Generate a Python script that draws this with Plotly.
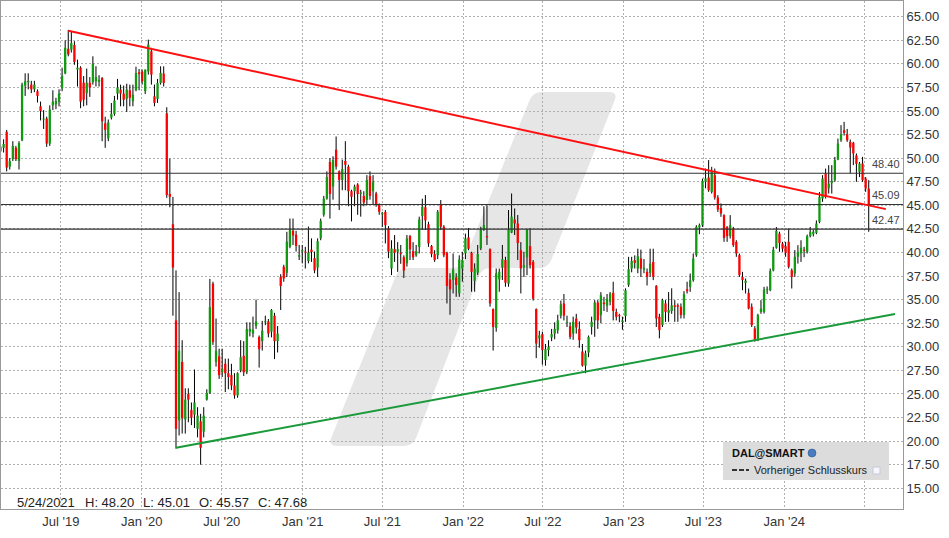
import plotly.graph_objects as go
import pandas as pd

# ---------------- data (weekly OHLC) ----------------
first_week = "2019-02-11"

open_ = [50.7, 51.1, 52.8, 49.1, 49.9, 51.1, 49.7, 51.9, 57.7, 58.05,
         57.8, 57.3, 57.1, 55.5, 54.1, 54.2, 51.55, 55.6, 55.7, 56.0,
         57.4, 59.0, 61.6, 61.5, 62.0, 59.4, 59.6, 58.0, 56.9, 58.0,
         58.05, 58.15, 58.1, 58.5, 53.7, 52.1, 54.3, 54.7, 56.85, 57.27,
         56.85, 56.3, 57.2, 56.03, 57.2, 59.1, 59.2, 57.1, 59.2, 61.33,
         56.56, 56.28, 57.98, 58.97, 54.75, 46.2, 43.0, 32.8, 22.2, 28.4,
         22.3, 25.0, 23.3, 22.8, 21.3, 22.1, 21.0, 24.4, 25.1, 36.7,
         28.4, 29.0, 27.3, 28.2, 27.2, 27.0, 25.9, 24.85, 27.5, 29.05,
         27.3, 31.6, 31.4, 32.2, 31.05, 30.6, 32.6, 32.7, 31.6, 33.3,
         30.6, 37.4, 38.5, 37.85, 40.6, 42.3, 41.9, 39.55, 40.1, 40.1,
         39.1, 40.3, 39.4, 38.4, 41.5, 44.0, 45.7, 49.6, 47.0, 50.9,
         48.6, 47.7, 49.7, 49.1, 46.5, 46.5, 47.2, 46.2, 46.0, 45.57,
         48.1, 46.5, 46.26, 45.03, 44.04, 44.3, 42.55, 38.3, 40.36, 40.08,
         39.97, 39.5, 38.85, 41.74, 40.15, 39.7, 40.6, 43.86, 44.8, 43.0,
         40.68, 39.83, 39.7, 45.03, 42.73, 39.97, 37.15, 37.08, 37.36, 35.66,
         38.3, 39.9, 41.6, 39.97, 37.0, 37.85, 40.43, 42.4, 41.74, 40.36,
         34.0, 32.0, 37.15, 38.4, 39.2, 36.7, 42.1, 43.5, 43.08, 40.25,
         38.4, 39.5, 40.68, 39.0, 34.0, 30.9, 31.35, 28.6, 29.65, 31.0,
         31.4, 31.75, 33.3, 34.6, 32.55, 32.2, 31.4, 33.0, 31.9, 29.5,
         28.0, 29.4, 32.1, 32.8, 34.7, 33.36, 34.7, 34.35, 34.77, 35.72,
         33.7, 33.36, 32.65, 33.25, 36.54, 38.3, 39.19, 38.3, 39.36, 38.2,
         37.95, 37.84, 39.0, 36.47, 33.18, 32.3, 34.6, 33.6, 33.8, 34.4,
         34.4, 34.24, 33.36, 36.1, 36.36, 37.07, 39.72, 42.65, 42.9, 47.49,
         47.95, 46.43, 48.2, 45.83, 44.73, 43.96, 42.72, 41.73, 42.54, 41.13,
         39.72, 37.42, 36.78, 35.72, 34.24, 31.95, 30.7, 33.7, 33.7, 36.0,
         36.0, 38.1, 40.5, 42.0, 40.95, 40.67, 41.13, 38.13, 37.77, 39.54,
         39.9, 40.3, 40.07, 41.73, 41.94, 42.08, 43.25, 45.72, 48.37, 46.8,
         47.38, 47.67, 49.86, 51.9, 52.97, 52.54, 51.73, 51.63, 50.3, 48.55,
         49.43, 47.84, 46.78]

high = [51.6, 52.0, 53.0, 50.0, 51.8, 51.3, 51.8, 58.0, 59.0, 59.0,
        58.2, 58.2, 57.3, 56.0, 55.1, 54.4, 55.6, 57.2, 56.4, 57.3,
        59.6, 62.5, 63.6, 63.4, 62.4, 60.45, 59.75, 58.7, 59.5, 58.6,
        60.8, 59.75, 58.8, 58.6, 54.4, 54.1, 55.85, 56.6, 58.4, 57.8,
        57.7, 57.9, 57.8, 57.8, 59.7, 59.45, 59.4, 59.4, 62.57, 61.7,
        57.8, 58.4, 59.74, 59.74, 55.4, 49.95, 45.9, 38.1, 35.8, 30.7,
        25.6, 25.6, 24.1, 27.6, 23.6, 22.9, 23.6, 25.5, 37.2, 36.9,
        33.0, 29.8, 29.8, 28.75, 28.75, 28.2, 27.2, 27.3, 30.7, 30.6,
        32.6, 32.6, 33.2, 35.0, 31.2, 32.75, 33.3, 32.95, 34.0, 33.6,
        32.2, 37.7, 38.7, 42.2, 43.6, 43.6, 42.3, 40.8, 40.8, 40.6,
        42.75, 41.5, 40.1, 41.5, 43.6, 46.0, 48.6, 50.0, 50.2, 52.3,
        48.7, 49.85, 51.8, 49.3, 46.65, 47.2, 47.35, 46.65, 46.5, 48.20,
        48.6, 48.2, 46.44, 45.2, 44.3, 44.5, 42.8, 41.3, 41.85, 41.1,
        40.8, 39.7, 41.85, 41.85, 41.1, 40.8, 43.8, 45.7, 46.1, 43.26,
        40.8, 40.25, 44.5, 45.56, 42.9, 40.08, 37.8, 39.9, 37.8, 39.7,
        40.08, 42.0, 42.6, 40.08, 38.85, 40.8, 42.73, 44.9, 45.0, 40.43,
        34.07, 38.3, 38.3, 40.8, 39.55, 44.5, 46.26, 44.67, 43.97, 41.1,
        40.08, 42.5, 42.56, 39.2, 34.07, 31.7, 31.6, 30.3, 30.7, 31.9,
        32.6, 33.4, 34.9, 35.6, 33.3, 32.6, 33.2, 33.5, 32.7, 30.3,
        29.6, 31.2, 33.2, 34.95, 34.95, 35.8, 35.3, 35.6, 35.8, 36.9,
        34.05, 33.5, 33.2, 36.2, 39.54, 39.54, 39.7, 40.4, 40.3, 39.3,
        38.3, 40.4, 40.4, 36.54, 33.5, 35.1, 34.95, 35.8, 36.2, 34.95,
        34.6, 34.6, 35.9, 36.9, 37.77, 39.9, 42.9, 43.07, 47.84, 48.9,
        49.8, 49.08, 48.9, 46.08, 45.2, 44.06, 42.79, 43.96, 42.72, 41.3,
        39.89, 37.95, 37.24, 36.18, 34.6, 32.2, 33.5, 34.95, 36.36, 36.4,
        38.3, 40.6, 42.7, 42.2, 41.13, 41.13, 42.54, 38.3, 40.25, 40.78,
        41.3, 40.6, 41.9, 42.7, 42.4, 43.4, 46.4, 48.2, 48.9, 49.26,
        49.26, 50.14, 52.08, 53.5, 53.85, 53.1, 51.98, 51.73, 50.5, 49.6,
        50.14, 48.0, 47.67]

low = [49.9, 50.6, 48.6, 48.8, 49.7, 49.7, 48.8, 51.8, 56.6, 57.3,
       56.9, 57.0, 55.9, 54.0, 53.1, 51.2, 51.3, 55.1, 55.2, 55.5,
       57.1, 58.9, 60.8, 61.2, 59.9, 57.6, 55.3, 55.5, 55.6, 56.5,
       57.8, 57.6, 57.6, 51.8, 51.1, 51.8, 54.1, 54.5, 56.2, 55.5,
       55.5, 54.9, 55.5, 55.5, 57.1, 57.2, 57.8, 56.8, 58.86, 57.8,
       55.5, 55.86, 57.8, 57.6, 45.8, 44.8, 33.3, 19.2, 20.6, 20.8,
       20.8, 22.0, 21.7, 21.4, 20.4, 17.5, 20.4, 24.3, 25.0, 30.2,
       27.9, 26.6, 26.8, 25.2, 25.5, 25.4, 24.5, 24.6, 27.3, 26.9,
       27.1, 31.1, 31.0, 31.9, 27.8, 29.6, 32.3, 31.0, 31.0, 28.7,
       29.4, 33.9, 36.9, 37.4, 40.45, 40.8, 40.1, 39.2, 38.85, 38.3,
       38.85, 39.0, 37.8, 37.4, 41.3, 43.8, 45.6, 43.6, 45.6, 48.8,
       44.5, 46.6, 46.6, 44.9, 43.3, 44.9, 44.0, 43.8, 44.9, 45.01,
       45.6, 45.05, 44.85, 44.0, 42.7, 40.96, 39.4, 37.6, 39.0, 37.95,
       38.8, 37.3, 38.5, 39.2, 39.2, 39.55, 39.9, 42.4, 42.4, 40.6,
       39.5, 39.0, 39.3, 42.38, 39.5, 34.6, 33.4, 35.66, 35.3, 35.3,
       36.9, 39.3, 40.25, 35.84, 35.84, 37.6, 40.25, 42.3, 40.8, 34.25,
       29.6, 31.6, 35.84, 37.08, 36.37, 36.37, 42.05, 41.85, 39.2, 35.66,
       37.4, 37.6, 38.3, 34.9, 28.8, 29.9, 28.1, 28.0, 29.0, 30.6,
       30.8, 31.4, 33.0, 32.8, 32.1, 30.8, 30.75, 31.4, 29.9, 27.9,
       27.2, 28.9, 31.3, 31.06, 31.9, 32.5, 33.8, 33.7, 34.4, 32.8,
       32.8, 32.6, 31.8, 32.65, 36.36, 37.9, 38.3, 37.8, 37.4, 37.8,
       36.5, 37.42, 37.07, 32.1, 30.9, 32.1, 32.65, 32.65, 33.5, 32.65,
       32.65, 33.0, 33.0, 35.65, 35.83, 36.9, 39.54, 41.94, 42.72, 46.8,
       46.43, 46.25, 45.6, 44.3, 43.78, 41.13, 41.13, 41.48, 40.6, 39.54,
       37.42, 36.0, 35.65, 33.96, 32.1, 30.55, 30.6, 33.5, 33.53, 35.6,
       35.9, 38.0, 40.4, 40.07, 40.07, 39.54, 38.3, 36.18, 37.42, 38.83,
       39.0, 39.5, 39.9, 41.6, 41.7, 41.94, 43.1, 45.37, 45.72, 46.25,
       46.25, 47.49, 49.79, 51.73, 52.4, 51.73, 48.4, 49.26, 47.5, 48.0,
       47.49, 46.43, 42.2]

close = [51.2, 51.5, 49.0, 49.7, 51.3, 49.9, 51.6, 57.8, 58.15, 58.2,
         57.3, 57.8, 56.6, 55.0, 54.2, 51.55, 55.15, 56.0, 56.05, 56.85,
         58.75, 61.7, 61.0, 62.2, 60.2, 59.6, 56.0, 56.2, 58.0, 57.5,
         60.0, 58.6, 58.3, 53.9, 53.0, 53.8, 54.7, 56.1, 57.5, 56.85,
         56.2, 57.27, 56.4, 56.74, 59.04, 58.93, 58.15, 59.39, 62.04, 58.86,
         55.86, 57.98, 59.04, 57.98, 46.1, 45.9, 38.4, 21.3, 29.6, 22.4,
         24.4, 24.4, 22.5, 24.1, 22.7, 19.3, 22.7, 25.1, 34.2, 30.5,
         29.6, 27.0, 27.7, 27.2, 26.8, 25.9, 24.85, 27.2, 28.9, 27.3,
         31.9, 31.9, 31.8, 32.7, 29.75, 31.7, 32.7, 31.4, 33.9, 30.6,
         31.4, 36.45, 37.25, 41.15, 42.4, 41.8, 40.7, 39.7, 40.25, 40.0,
         40.0, 40.05, 38.1, 41.2, 43.35, 45.7, 48.0, 46.2, 49.8, 49.1,
         47.7, 48.85, 49.3, 46.5, 45.9, 47.0, 46.2, 46.35, 45.3, 47.68,
         46.0, 47.5, 45.03, 44.32, 44.2, 42.9, 40.1, 40.43, 39.97, 40.36,
         39.83, 38.1, 41.5, 40.33, 39.5, 40.15, 43.5, 44.85, 43.4, 40.96,
         39.83, 39.2, 44.32, 42.73, 39.7, 36.44, 36.09, 38.2, 36.55, 39.27,
         39.2, 41.5, 40.4, 37.95, 38.3, 39.83, 42.4, 42.9, 41.6, 34.6,
         32.1, 37.8, 37.96, 39.3, 36.8, 42.4, 43.8, 43.08, 41.0, 38.3,
         38.66, 42.4, 38.66, 35.1, 30.35, 31.2, 29.65, 29.75, 30.0, 31.35,
         31.9, 32.8, 34.5, 33.3, 32.65, 31.05, 32.65, 32.05, 30.7, 28.0,
         29.3, 31.05, 32.65, 34.7, 32.8, 35.48, 34.52, 35.1, 35.65, 33.8,
         33.18, 33.25, 32.8, 36.0, 38.23, 39.1, 38.9, 39.6, 38.3, 38.37,
         37.42, 38.83, 37.42, 33.0, 31.77, 34.95, 33.7, 33.9, 34.4, 34.24,
         34.24, 33.36, 35.58, 35.9, 37.07, 39.36, 42.72, 42.9, 47.6, 47.84,
         46.6, 48.55, 45.83, 44.56, 44.13, 41.55, 41.73, 42.9, 40.78, 39.89,
         37.6, 37.07, 37.0, 34.06, 32.3, 30.7, 33.36, 34.06, 36.08, 36.1,
         38.05, 40.3, 42.3, 41.0, 40.4, 39.96, 38.48, 37.42, 39.54, 40.07,
         40.53, 40.18, 41.73, 42.2, 42.2, 43.07, 45.9, 47.84, 45.9, 47.3,
         47.6, 49.8, 51.55, 52.54, 52.69, 51.9, 51.13, 50.5, 49.4, 49.43,
         47.67, 46.78, 45.09]

level_values = [48.40, 45.09, 42.47]
level_labels = ["48.40", "45.09", "42.47"]

resistance_x = ["2019-07-18", "2024-08-19"]
resistance_y = [63.5, 44.6]
support_x = ["2020-03-19", "2024-09-08 17:00"]
support_y = [19.3, 33.47]

tick_dates = ["2019-07-01", "2020-01-01", "2020-07-01", "2021-01-01", "2021-07-01",
              "2022-01-01", "2022-07-01", "2023-01-01", "2023-07-01", "2024-01-01",
              "2024-07-01"]
tick_text = ["Jul '19", "Jan '20", "Jul '20", "Jan '21", "Jul '21", "Jan '22",
             "Jul '22", "Jan '23", "Jul '23", "Jan '24", ""]
y_ticks = [15 + 2.5 * i for i in range(21)]

info_texts = ["5/24/2021", "H: 48.20", "L: 45.01", "O: 45.57", "C: 47.68"]
legend_title = "DAL@SMART"
legend_item = "Vorheriger Schlusskurs"

# ---------------- figure ----------------
W, H = 949, 538
ML, MR, MT, MB = 1, 46, 1, 29
PW, PH = W - ML - MR, H - MT - MB


def px(x):
    return (x - ML) / PW


def py(y):
    return 1 - (y - MT) / PH


def rounded_path(pts, r):
    """closed polygon (pixel coords) with rounded corners, returned in paper coords"""
    n = len(pts)
    out = []
    for i in range(n):
        p0, p1, p2 = pts[i - 1], pts[i], pts[(i + 1) % n]
        v1 = (p0[0] - p1[0], p0[1] - p1[1])
        v2 = (p2[0] - p1[0], p2[1] - p1[1])
        l1 = (v1[0] ** 2 + v1[1] ** 2) ** 0.5
        l2 = (v2[0] ** 2 + v2[1] ** 2) ** 0.5
        rr = min(r, l1 / 2, l2 / 2)
        a = (p1[0] + v1[0] / l1 * rr, p1[1] + v1[1] / l1 * rr)
        b = (p1[0] + v2[0] / l2 * rr, p1[1] + v2[1] / l2 * rr)
        cmd = "M" if i == 0 else "L"
        out.append("{} {:.5f} {:.5f}".format(cmd, px(a[0]), py(a[1])))
        out.append("Q {:.5f} {:.5f} {:.5f} {:.5f}".format(px(p1[0]), py(p1[1]), px(b[0]), py(b[1])))
    return " ".join(out) + " Z"


weeks = pd.date_range(first_week, periods=len(close), freq="7D")
xc = weeks + pd.Timedelta(days=3)

wx, wy = [], []
gx, gy, rx, ry = [], [], [], []
for d, o, h, l, c in zip(xc, open_, high, low, close):
    wx += [d, d, None]
    wy += [l, h, None]
    if c >= o:
        gx += [d, d, None]
        gy += [o, c, None]
    else:
        rx += [d, d, None]
        ry += [o, c, None]

fig = go.Figure()
fig.add_trace(go.Scatter(x=wx, y=wy, mode="lines", line=dict(color="#000000", width=1),
                         hoverinfo="skip", showlegend=False))
fig.add_trace(go.Scatter(x=gx, y=gy, mode="lines", line=dict(color="#109a10", width=2.3),
                         hoverinfo="skip", showlegend=False))
fig.add_trace(go.Scatter(x=rx, y=ry, mode="lines", line=dict(color="#ff0000", width=2.3),
                         hoverinfo="skip", showlegend=False))

shapes = []
# watermark (stepped slash)
wm = [(533, 92), (618, 92), (548, 268), (482, 268), (413, 446), (328, 446),
      (399, 268), (461, 268)]
shapes.append(dict(type="path", xref="paper", yref="paper", path=rounded_path(wm, 9),
                   fillcolor="#e6e6e6", line=dict(width=0), layer="below"))
for v in level_values:
    shapes.append(dict(type="line", xref="paper", yref="y", x0=0, x1=1, y0=v, y1=v,
                       line=dict(color="#333333", width=1.2), layer="above"))
shapes.append(dict(type="line", xref="x", yref="y", x0=resistance_x[0], x1=resistance_x[1],
                   y0=resistance_y[0], y1=resistance_y[1],
                   line=dict(color="#ff1010", width=2), layer="above"))
shapes.append(dict(type="line", xref="x", yref="y", x0=support_x[0], x1=support_x[1],
                   y0=support_y[0], y1=support_y[1],
                   line=dict(color="#1a9a3a", width=2), layer="above"))
# legend box
shapes.append(dict(type="rect", xref="paper", yref="paper", x0=px(723), x1=px(889),
                   y0=py(480), y1=py(442), fillcolor="#dcdcdc", line=dict(width=0),
                   layer="above"))
shapes.append(dict(type="line", xref="paper", yref="paper", x0=px(732), x1=px(749),
                   y0=py(470), y1=py(470), line=dict(color="#333333", width=2, dash="5px,2px"),
                   layer="above"))
shapes.append(dict(type="rect", xref="paper", yref="paper", x0=px(873), x1=px(880),
                   y0=py(474), y1=py(467), fillcolor="#f6f6ff", line=dict(color="#c8c8d8", width=1),
                   layer="above"))
shapes.append(dict(type="circle", xref="paper", yref="paper", x0=px(808), x1=px(816),
                   y0=py(457), y1=py(449), fillcolor="#4a7cc0", line=dict(color="#2f5590", width=0.6),
                   layer="above"))

annotations = []
for v, t in zip(level_values, level_labels):
    annotations.append(dict(xref="paper", yref="y", x=px(902), y=v, text=t, showarrow=False,
                            xanchor="right", yanchor="bottom", yshift=1,
                            font=dict(size=11, color="#444444")))
info_x = [15, 83, 141, 197, 256]
for x, t in zip(info_x, info_texts):
    annotations.append(dict(xref="paper", yref="paper", x=px(x), y=py(502), text=t,
                            showarrow=False, xanchor="left", yanchor="middle",
                            font=dict(size=13, color="#222222")))
annotations.append(dict(xref="paper", yref="paper", x=px(730), y=py(453),
                        text="<b>" + legend_title + "</b>",
                        showarrow=False, xanchor="left", yanchor="middle",
                        font=dict(size=11, color="#111111")))
annotations.append(dict(xref="paper", yref="paper", x=px(752), y=py(470),
                        text=legend_item, showarrow=False, xanchor="left",
                        yanchor="middle", font=dict(size=11, color="#222222")))

fig.update_layout(
    width=W, height=H,
    margin=dict(l=ML, r=MR, t=MT, b=MB, pad=0),
    paper_bgcolor="white", plot_bgcolor="white",
    font=dict(family="Arial, Liberation Sans, sans-serif", size=13, color="#333333"),
    showlegend=False,
    shapes=shapes, annotations=annotations,
    xaxis=dict(type="date", range=["2019-02-15 02:00", "2024-09-26 22:00"],
               tickmode="array", tickvals=tick_dates, ticktext=tick_text,
               showgrid=True, gridcolor="#b0b0b0", griddash="2px,2px", gridwidth=1,
               showline=True, linecolor="#999999", linewidth=1, mirror=True,
               ticks="", tickfont=dict(size=13, color="#333333"), zeroline=False,
               automargin=False, fixedrange=True),
    yaxis=dict(range=[12.805, 66.665], side="right", tickmode="array", tickvals=y_ticks,
               ticktext=["{:.2f}".format(v) for v in y_ticks],
               showgrid=True, gridcolor="#b0b0b0", griddash="2px,2px", gridwidth=1,
               showline=True, linecolor="#999999", linewidth=1, mirror=True,
               ticks="", tickfont=dict(size=13, color="#333333"), zeroline=False,
               automargin=False, fixedrange=True),
)

fig.write_html("out.html", config={"displayModeBar": False},
               post_script="document.body.style.margin='0px';")
